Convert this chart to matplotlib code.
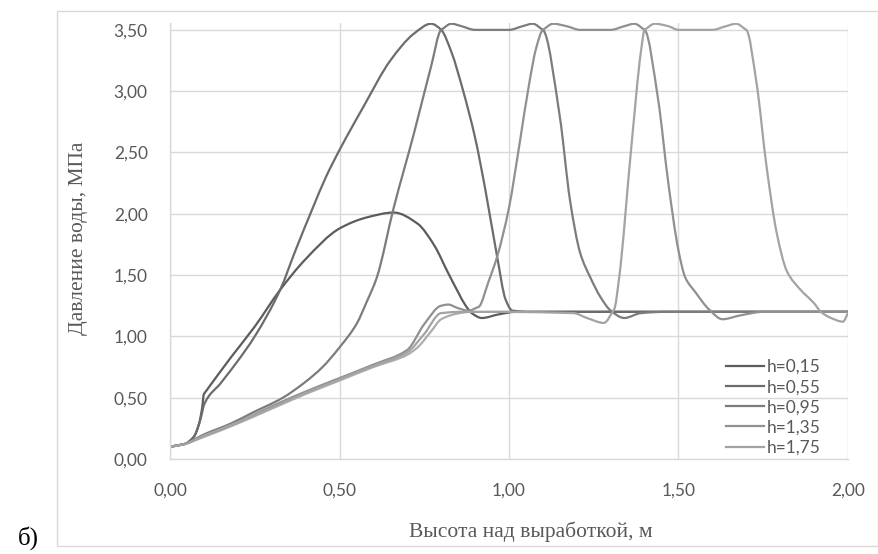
import numpy as np
import matplotlib
matplotlib.use("Agg")
import matplotlib.pyplot as plt
from matplotlib.path import Path
from matplotlib.patches import PathPatch, Rectangle
from matplotlib.lines import Line2D

# values (x - height above working, m; y - water pressure, MPa)
h015_x = [0, 0.04, 0.07, 0.085, 0.095, 0.10, 0.18, 0.25, 0.325, 0.40, 0.50, 0.58, 0.66,
          0.73, 0.78, 0.82, 0.85, 0.87, 0.89, 0.92, 0.97, 1.02, 1.5, 2.0]
h015_y = [0.10, 0.12, 0.18, 0.28, 0.42, 0.53, 0.83, 1.08, 1.38, 1.63, 1.88, 1.97, 2.01,
          1.92, 1.74, 1.52, 1.36, 1.26, 1.19, 1.15, 1.18, 1.20, 1.20, 1.20]

h055_x = [0, 0.04, 0.07, 0.085, 0.095, 0.10, 0.15, 0.20, 0.25, 0.325, 0.37, 0.42, 0.46,
          0.50, 0.57, 0.65, 0.72, 0.77, 0.80, 0.83, 0.865, 0.90, 0.93, 0.965, 0.99, 1.01,
          1.05, 1.5, 2.0]
h055_y = [0.10, 0.12, 0.18, 0.28, 0.38, 0.44, 0.62, 0.80, 1.00, 1.38, 1.70, 2.04, 2.30,
          2.52, 2.87, 3.25, 3.47, 3.55, 3.50, 3.32, 3.00, 2.62, 2.20, 1.65, 1.30, 1.21,
          1.20, 1.20, 1.20]

h095_x = [0, 0.04, 0.10, 0.18, 0.245, 0.333, 0.40, 0.45, 0.50, 0.55, 0.58, 0.61, 0.66,
          0.72, 0.77, 0.80, 0.83, 0.86, 0.90, 1.00, 1.04, 1.07, 1.10, 1.15, 1.18, 1.21,
          1.24, 1.27, 1.30, 1.34, 1.39, 1.45, 2.0]
h095_y = [0.10, 0.12, 0.20, 0.29, 0.38, 0.50, 0.63, 0.75, 0.91, 1.10, 1.28, 1.48, 2.05,
          2.66, 3.20, 3.50, 3.55, 3.53, 3.50, 3.50, 3.53, 3.55, 3.50, 2.79, 2.11, 1.68,
          1.48, 1.32, 1.21, 1.15, 1.19, 1.20, 1.20]

h135_x = [0, 0.04, 0.10, 0.20, 0.30, 0.40, 0.50, 0.60, 0.70, 0.75, 0.80, 0.82, 0.85, 0.88,
          0.91, 0.94, 0.965, 1.00, 1.03, 1.06, 1.08, 1.10, 1.13, 1.17, 1.21, 1.30, 1.34,
          1.37, 1.40, 1.44, 1.47, 1.50, 1.52, 1.55, 1.59, 1.63, 1.68, 1.75, 2.0]
h135_y = [0.10, 0.12, 0.19, 0.30, 0.43, 0.55, 0.66, 0.77, 0.89, 1.10, 1.25, 1.26, 1.23, 1.21,
          1.24, 1.45, 1.65, 2.05, 2.55, 3.07, 3.35, 3.50, 3.55, 3.53, 3.50, 3.50, 3.53,
          3.55, 3.50, 2.93, 2.25, 1.70, 1.48, 1.36, 1.22, 1.14, 1.17, 1.20, 1.20]

h175_x = [0, 0.04, 0.10, 0.20, 0.30, 0.40, 0.50, 0.60, 0.70, 0.75, 0.80, 0.85, 0.90, 1.00,
          1.19, 1.23, 1.28, 1.31, 1.325, 1.36, 1.39, 1.40, 1.43, 1.47, 1.50, 1.60, 1.64,
          1.67, 1.70, 1.73, 1.76, 1.79, 1.82, 1.86, 1.90, 1.92, 1.95, 1.985, 2.0]
h175_y = [0.10, 0.12, 0.19, 0.30, 0.42, 0.54, 0.65, 0.76, 0.87, 1.02, 1.19, 1.20, 1.20, 1.20,
          1.19, 1.15, 1.11, 1.22, 1.48, 2.52, 3.34, 3.50, 3.55, 3.53, 3.50, 3.50, 3.53,
          3.55, 3.50, 3.07, 2.38, 1.84, 1.53, 1.38, 1.27, 1.20, 1.15, 1.12, 1.19]

# a sixth light curve visible under the others, not in the legend
extra_x = [0, 0.04, 0.10, 0.20, 0.30, 0.40, 0.50, 0.60, 0.70, 0.73, 0.77, 0.80, 0.855, 0.885, 1.0, 2.0]
extra_y = [0.10, 0.12, 0.18, 0.29, 0.41, 0.53, 0.64, 0.75, 0.85, 0.91, 1.04, 1.14, 1.19, 1.20, 1.20, 1.20]

labels = ["h=0,15", "h=0,55", "h=0,95", "h=1,35", "h=1,75"]
colors = ["#5c5c5c", "#6c6c6c", "#7c7c7c", "#909090", "#a3a3a3"]

y_ticks = [0, 0.5, 1.0, 1.5, 2.0, 2.5, 3.0, 3.5]
x_ticks = [0, 0.5, 1.0, 1.5, 2.0]


def smooth_path(x, y):
    # smoothed line like Excel: cubic bezier through the points (monotone hermite tangents)
    x = np.asarray(x, float)
    y = np.asarray(y, float)
    h = np.diff(x)
    d = np.diff(y) / h
    m = np.zeros_like(y)
    m[0], m[-1] = d[0], d[-1]
    for k in range(1, len(x) - 1):
        if d[k - 1] * d[k] > 0:
            a, b = abs(d[k - 1]), abs(d[k])
            if max(a, b) > 4 * min(a, b):
                # sharp bend: keep the corner tight
                m[k] = d[k - 1] if a < b else d[k]
            else:
                w1 = 2 * h[k] + h[k - 1]
                w2 = h[k] + 2 * h[k - 1]
                m[k] = (w1 + w2) / (w1 / d[k - 1] + w2 / d[k])
    verts = [(x[0], y[0])]
    codes = [Path.MOVETO]
    for k in range(len(x) - 1):
        verts += [(x[k] + h[k] / 3, y[k] + m[k] * h[k] / 3),
                  (x[k + 1] - h[k] / 3, y[k + 1] - m[k + 1] * h[k] / 3),
                  (x[k + 1], y[k + 1])]
        codes += [Path.CURVE4] * 3
    return Path(verts, codes)


fig = plt.figure(figsize=(8.79, 5.54), dpi=100)
ax = fig.add_axes([170 / 879, 95 / 554, 678 / 879, 436 / 554])

series = [(h015_x, h015_y), (h055_x, h055_y), (h095_x, h095_y),
          (h135_x, h135_y), (h175_x, h175_y)]

ax.add_patch(PathPatch(smooth_path(extra_x, extra_y), fill=False,
                       edgecolor="#adadad", lw=1.6, capstyle="round"))
for (xs, ys), c in zip(series, colors):
    ax.add_patch(PathPatch(smooth_path(xs, ys), fill=False, edgecolor=c,
                           lw=1.6, capstyle="round", joinstyle="round"))

ax.set_xlim(0, 2)
ax.set_ylim(0, 3.556)
ax.set_xticks(x_ticks)
ax.set_yticks(y_ticks)
ax.set_xticklabels([f"{v:.2f}".replace(".", ",") for v in x_ticks])
ax.set_yticklabels([f"{v:.2f}".replace(".", ",") for v in y_ticks])
ax.grid(True, color="#d9d9d9", lw=1)
ax.set_axisbelow(True)
for s in ["top", "right"]:
    ax.spines[s].set_visible(False)
for s in ["left", "bottom"]:
    ax.spines[s].set_color("#d9d9d9")
    ax.spines[s].set_linewidth(1)
ax.tick_params(axis="both", length=0, labelsize=12.5, labelcolor="#595959")
ax.tick_params(axis="y", pad=16)
ax.tick_params(axis="x", pad=17)
for t in ax.get_xticklabels() + ax.get_yticklabels():
    t.set_fontfamily("Lato")

handles = [Line2D([], [], color=c, lw=1.6) for c in colors]
ax.legend(handles, labels, loc="upper left", bbox_to_anchor=(726 / 879, 1 - 359 / 554),
          bbox_transform=fig.transFigure, frameon=False, handlelength=2.2,
          handletextpad=0.15, labelspacing=0.24, borderpad=0, borderaxespad=0,
          prop={"family": "Lato", "size": 12.5}, labelcolor="#595959")

fig.text(79 / 879, 1 - 238 / 554, "Давление воды, МПа", rotation=90, ha="center",
         va="center", family="Liberation Serif", size=15.5, color="#595959")
fig.text(531 / 879, 1 - 532 / 554, "Высота над выработкой, м", ha="center", va="center",
         family="Liberation Serif", size=15.5, color="#595959")
fig.text(28 / 879, 1 - 538 / 554, "б)", ha="center", va="center",
         family="Liberation Serif", size=18, color="black")

fig.patches.append(Rectangle((57 / 879, 8 / 554), 821 / 879, 535 / 554,
                             transform=fig.transFigure, fill=False,
                             edgecolor="#d9d9d9", lw=1))

fig.savefig("out.png", dpi=100)
